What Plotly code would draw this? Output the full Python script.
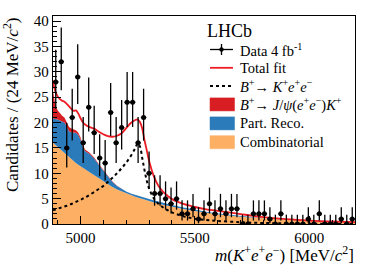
import numpy as np
import plotly.graph_objects as go

# ---------------- data ----------------
bin_edges_lo = 4880
bin_width = 24
counts = [28, 32, 15, 21, 29, 16, 23, 18, 13, 12, 22, 16, 19, 24, 24, 16, 21, 10, 6, 6,
          5, 4, 5, 2, 2, 3, 1, 2, 4, 2, 3, 2, 3, 3, 0, 0, 2, 2, 2, 1,
          0, 2, 0, 0, 0, 0, 1, 0, 2, 0, 0, 0, 1, 0, 1]

mass_pts = [4880, 4885, 4890, 4900, 4910, 4920, 4930, 4940, 4950, 4960, 4970, 4980, 4990,
            5000, 5010, 5020, 5040, 5060, 5080, 5100, 5120, 5140, 5160, 5180, 5200, 5220,
            5240, 5250, 5260, 5270, 5280, 5290, 5300, 5320, 5340, 5360, 5380, 5400, 5450,
            5500, 5550, 5600, 5700, 5800, 5900, 6000, 6100, 6200]

comb = [16.0, 15.8, 15.5, 15.1, 14.7, 14.3, 13.9, 13.5, 13.1, 12.7, 12.4, 12.0, 11.7,
        11.4, 11.1, 10.8, 10.2, 9.6, 9.0, 8.4, 7.8, 7.3, 6.8, 6.4, 6.0, 5.65,
        5.35, 5.2, 5.05, 4.9, 4.8, 4.65, 4.5, 4.25, 4.0, 3.8, 3.6, 3.4, 2.95,
        2.55, 2.2, 1.9, 1.45, 1.1, 0.85, 0.65, 0.5, 0.38]

part_reco = [4.8, 5.0, 5.2, 5.5, 5.7, 5.9, 6.1, 5.7, 5.2, 5.4, 5.7, 6.0, 5.9,
             5.3, 4.2, 3.6, 3.6, 3.3, 2.7, 2.1, 1.5, 1.0, 0.7, 0.5, 0.4, 0.35,
             0.35, 0.35, 0.35, 0.4, 0.4, 0.4, 0.45, 0.45, 0.45, 0.4, 0.4, 0.35, 0.3,
             0.25, 0.2, 0.15, 0.1, 0.05, 0.03, 0.02, 0.01, 0.01]

jpsi = [5.5, 3.8, 2.8, 1.8, 1.4, 1.15, 1.0, 0.9, 0.8, 0.7, 0.6, 0.5, 0.45,
        0.4, 0.35, 0.3, 0.25, 0.2, 0.15, 0.12, 0.1, 0.08, 0.05, 0.04, 0.03, 0.02,
        0.02, 0.01, 0.01, 0.01, 0.01, 0.0, 0.0, 0.0, 0.0, 0.0, 0.0, 0.0, 0.0,
        0.0, 0.0, 0.0, 0.0, 0.0, 0.0, 0.0, 0.0, 0.0]

signal = [2.7, 2.8, 2.85, 3.0, 3.15, 3.3, 3.45, 3.6, 3.8, 3.95, 4.15, 4.35, 4.55,
          4.75, 5.0, 5.2, 5.75, 6.3, 6.9, 7.5, 8.3, 9.1, 10.0, 11.0, 12.1, 13.4,
          15.0, 15.9, 15.3, 13.0, 10.6, 8.5, 7.0, 5.1, 4.0, 3.3, 2.75, 2.3, 1.5,
          1.05, 0.8, 0.6, 0.35, 0.2, 0.12, 0.07, 0.04, 0.03]

total = [28.3, 27.0, 26.2, 25.2, 24.6, 24.3, 24.1, 23.7, 23.2, 22.7, 22.3, 22.4, 21.8,
         20.9, 20.1, 19.6, 19.1, 18.8, 18.2, 17.7, 17.3, 17.2, 17.4, 17.9, 18.9, 19.9,
         20.5, 20.6, 20.1, 18.8, 16.5, 14.5, 12.4, 9.5, 7.6, 6.4, 5.6, 4.9, 3.95,
         3.35, 2.9, 2.6, 1.95, 1.35, 0.95, 0.68, 0.5, 0.38]

x_ticks = [5000, 5500, 6000]
x_range = [4880, 6200]
y_range = [0, 41]

# ---------------- style ----------------
C_COMB = "#fdb064"
C_PART = "#2b7bba"
C_JPSI = "#d81e22"
C_TOT = "#ee1c24"
FONT = "Liberation Serif"

W, H = 374, 268
# plot area in window pixels: x 53..355, y 16..224
ML, MT = 53, 16
MR, MB = W - 355, H - 224
PW, PH = W - ML - MR, H - MT - MB


def px(xp):
    """window x pixel -> paper x"""
    return (xp - ML) / PW


def py(yp):
    """window y pixel -> paper y"""
    return (H - MB - yp) / PH


counts_arr = np.array(counts, dtype=float)
centers = bin_edges_lo + bin_width / 2 + bin_width * np.arange(len(counts))
err_hi = np.where(counts_arr > 0, np.sqrt(counts_arr + 0.75) + 1.0, 1.84)
err_lo = np.where(counts_arr > 0, np.sqrt(np.clip(counts_arr - 0.25, 0, None)), 0.0)

fig = go.Figure()

fig.add_trace(go.Scatter(x=mass_pts, y=comb, stackgroup="bkg", mode="lines",
                         line=dict(width=0, color=C_COMB), fillcolor=C_COMB,
                         name="Combinatorial", showlegend=False))
fig.add_trace(go.Scatter(x=mass_pts, y=part_reco, stackgroup="bkg", mode="lines",
                         line=dict(width=0, color=C_PART), fillcolor=C_PART,
                         name="Part. Reco.", showlegend=False))
fig.add_trace(go.Scatter(x=mass_pts, y=jpsi, stackgroup="bkg", mode="lines",
                         line=dict(width=0, color=C_JPSI), fillcolor=C_JPSI,
                         name="J/psi", showlegend=False))
fig.add_trace(go.Scatter(x=mass_pts, y=signal, mode="lines",
                         line=dict(color="black", width=2, dash="dot", shape="spline"),
                         showlegend=False))
fig.add_trace(go.Scatter(x=mass_pts, y=total, mode="lines",
                         line=dict(color=C_TOT, width=1.8, shape="spline"),
                         showlegend=False))
fig.add_trace(go.Scatter(x=centers, y=counts, mode="markers",
                         marker=dict(color="black", size=5, symbol="circle"),
                         error_y=dict(type="data", symmetric=False, array=err_hi,
                                      arrayminus=err_lo, color="black", thickness=1.3, width=0),
                         error_x=dict(type="constant", value=bin_width / 2, color="black",
                                      thickness=1.3, width=0),
                         showlegend=False, cliponaxis=True))

fig.update_layout(
    width=W, height=H, margin=dict(l=ML, r=MR, t=MT, b=MB, pad=0),
    plot_bgcolor="white", paper_bgcolor="white", showlegend=False,
    font=dict(family=FONT, color="black", size=15),
    xaxis=dict(range=x_range, tickvals=x_ticks, ticks="inside", ticklen=8, tickwidth=1,
               tickcolor="black", showline=True, linecolor="black", linewidth=1.2,
               mirror=True, showgrid=False, zeroline=False,
               tickfont=dict(family=FONT, size=15),
               minor=dict(dtick=100, ticks="inside", ticklen=4, tickcolor="black", showgrid=False)),
    yaxis=dict(range=y_range, dtick=5, ticks="inside", ticklen=8, tickwidth=1,
               tickcolor="black", showline=True, linecolor="black", linewidth=1.2,
               mirror=True, showgrid=False, zeroline=False,
               tickfont=dict(family=FONT, size=15),
               minor=dict(dtick=1, ticks="inside", ticklen=4, tickcolor="black", showgrid=False)),
)

ann = []
shapes = []
# axis titles
ann.append(dict(xref="paper", yref="paper", x=px(11), y=py(105), textangle=-90,
                text="Candidates / (24 MeV/<i>c</i><sup>2</sup>)", showarrow=False,
                font=dict(family=FONT, size=17), xanchor="center", yanchor="middle"))
ann.append(dict(xref="paper", yref="paper", x=px(356), y=py(254),
                text="<i>m</i>(<i>K</i><sup>+</sup><i>e</i><sup>+</sup><i>e</i><sup>−</sup>) [MeV/<i>c</i><sup>2</sup>]",
                showarrow=False, font=dict(family=FONT, size=17), xanchor="right", yanchor="middle"))

# legend
ann.append(dict(xref="paper", yref="paper", x=px(205), y=py(31), text="LHCb", showarrow=False,
                font=dict(family=FONT, size=18), xanchor="left", yanchor="middle"))
leg_texts = ["Data 4 fb<sup>-1</sup>", "Total fit",
             "<i>B</i><sup>+</sup>→ <i>K</i><sup>+</sup><i>e</i><sup>+</sup><i>e</i><sup>−</sup>",
             "<i>B</i><sup>+</sup>→ <i>J</i>/<i>ψ</i>(<i>e</i><sup>+</sup><i>e</i><sup>−</sup>)<i>K</i><sup>+</sup>",
             "Part. Reco.", "Combinatorial"]
leg_y = [49.5, 67.8, 86.1, 104.4, 123.4, 142.2]
for t, yy in zip(leg_texts, leg_y):
    ann.append(dict(xref="paper", yref="paper", x=px(237.5), y=py(yy), text=t, showarrow=False,
                    font=dict(family=FONT, size=14.5), xanchor="left", yanchor="middle"))
sx0, sx1 = 210, 233
# data symbol
shapes.append(dict(type="line", xref="paper", yref="paper", x0=px(sx0), x1=px(sx1),
                   y0=py(leg_y[0]), y1=py(leg_y[0]), line=dict(color="black", width=1.3)))
shapes.append(dict(type="line", xref="paper", yref="paper", x0=px(221.5), x1=px(221.5),
                   y0=py(leg_y[0] - 5.5), y1=py(leg_y[0] + 5.5), line=dict(color="black", width=1.3)))
shapes.append(dict(type="circle", xref="paper", yref="paper", x0=px(219.5), x1=px(223.5),
                   y0=py(leg_y[0] - 2), y1=py(leg_y[0] + 2), fillcolor="black",
                   line=dict(color="black", width=0.5)))
shapes.append(dict(type="line", xref="paper", yref="paper", x0=px(sx0), x1=px(sx1),
                   y0=py(leg_y[1]), y1=py(leg_y[1]), line=dict(color=C_TOT, width=1.8)))
shapes.append(dict(type="line", xref="paper", yref="paper", x0=px(sx0), x1=px(sx1),
                   y0=py(leg_y[2]), y1=py(leg_y[2]), line=dict(color="black", width=2, dash="dot")))
for c, yy in zip([C_JPSI, C_PART, C_COMB], leg_y[3:]):
    shapes.append(dict(type="rect", xref="paper", yref="paper", x0=px(sx0), x1=px(sx1 + 1.5),
                       y0=py(yy - 6.5), y1=py(yy + 6.5), fillcolor=c,
                       line=dict(color=c, width=0.5)))

fig.update_layout(annotations=ann, shapes=shapes)
fig.write_html("out.html", config={"displayModeBar": False, "staticPlot": True},
               post_script="document.body.style.margin='0';document.body.style.padding='0';")
